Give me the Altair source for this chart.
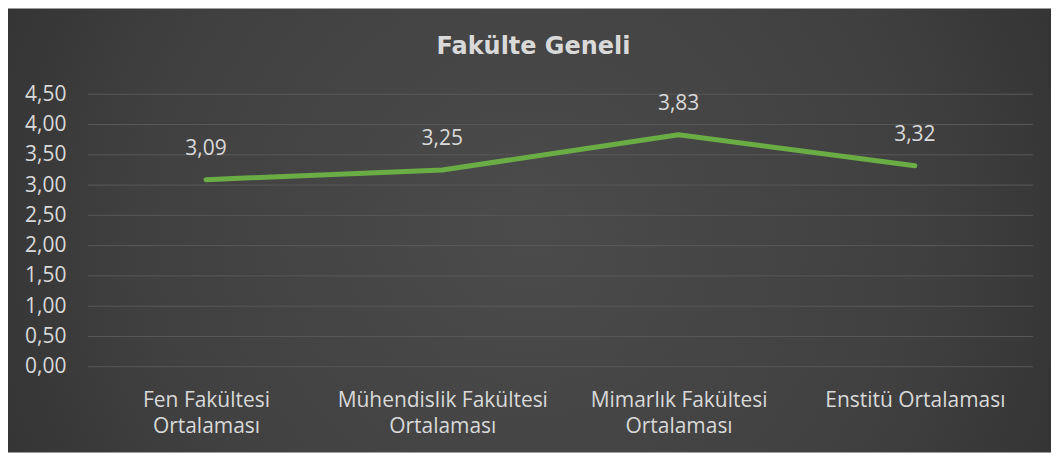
import altair as alt
import pandas as pd

categories = ["Fen Fakültesi Ortalaması", "Mühendislik Fakültesi Ortalaması",
              "Mimarlık Fakültesi Ortalaması", "Enstitü Ortalaması"]
values = [3.09, 3.25, 3.83, 3.32]
y_ticks = [0.0, 0.5, 1.0, 1.5, 2.0, 2.5, 3.0, 3.5, 4.0, 4.5]
title_text = ["Fakülte Geneli"]

W, H = 947, 273
PL, PT, PR, PB = 80, 86, 18, 86

df = pd.DataFrame({"cat": categories, "val": values})
ticks_df = pd.DataFrame({"t": y_ticks})

FONT = "Open Sans"
TXT = "#d9d9d9"
FS = 21

xscale = alt.Scale(type="point", padding=0.5)
yscale = alt.Scale(domain=[0, 4.5], nice=False)
y_axis = alt.Axis(values=y_ticks, domain=False, ticks=False, grid=False,
                  labelFont=FONT, labelFontSize=FS, labelColor=TXT,
                  labelPadding=22, zindex=1,
                  labelExpr="replace(format(datum.value, '.2f'), '.', ',')")

bg = alt.Chart(pd.DataFrame({"a": [0]})).mark_rect(
    fill=alt.Gradient(
        gradient="radial",
        stops=[alt.GradientStop(color="#4b4b4b", offset=0),
               alt.GradientStop(color="#404040", offset=0.5),
               alt.GradientStop(color="#262626", offset=1)],
        x1=0.5, y1=0.5, r1=0, x2=0.5, y2=0.5, r2=0.75,
    )
).encode(
    x=alt.value(-PL), x2=alt.value(W + PR),
    y=alt.value(-PT), y2=alt.value(H + PB),
)

grid = alt.Chart(ticks_df).mark_rule(color="#585858", strokeWidth=1).encode(
    y=alt.Y("t:Q", scale=yscale, axis=y_axis, title=None),
    x=alt.value(0), x2=alt.value(W),
)

base = alt.Chart(df).encode(
    x=alt.X("cat:N", sort=None, scale=xscale, title=None,
            axis=alt.Axis(labelAngle=0, domain=False, ticks=False, grid=False,
                          labelFont=FONT, labelFontSize=FS, labelColor=TXT,
                          labelPadding=23, labelLineHeight=26, labelBaseline="top",
                          labelLimit=400, zindex=1,
                          labelExpr="indexof(datum.label, 'Fakültesi') >= 0 ? [replace(datum.label, ' Ortalaması', ''), 'Ortalaması'] : datum.label")),
    y=alt.Y("val:Q", scale=yscale, title=None, axis=y_axis),
)

line = base.mark_line(color="#6aad45", strokeWidth=5, strokeCap="round", strokeJoin="round")

labels = base.transform_calculate(
    lbl="replace(format(datum.val, '.2f'), '.', ',')"
).mark_text(font=FONT, fontSize=FS, color=TXT, dy=-31).encode(text="lbl:N")

title = alt.Chart(pd.DataFrame({"t": title_text})).mark_text(
    font="DejaVu Sans", fontSize=24, fontWeight="bold", color=TXT, baseline="middle", align="center"
).encode(text="t:N", x=alt.value(W / 2 - 27), y=alt.value(-47))

chart = alt.layer(bg, grid, line, labels, title).properties(
    width=W, height=H,
    padding={"left": PL, "top": PT, "right": PR, "bottom": PB},
    autosize=alt.AutoSizeParams(type="none"),
).configure_view(stroke=None).configure(background="white")

chart.save("out.html", embed_options={"renderer": "svg", "actions": False})
